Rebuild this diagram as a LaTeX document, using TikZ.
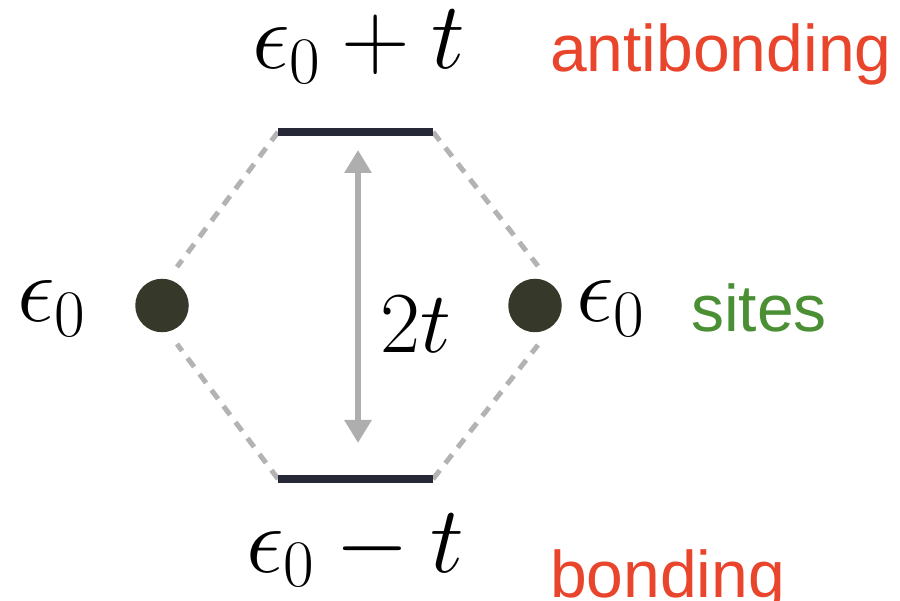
\RequirePackage{fix-cm}
\documentclass[tikz,border=0pt]{standalone}
\usepackage{fontspec}
\setsansfont{Liberation Sans}
\usetikzlibrary{arrows.meta}
\definecolor{levelc}{HTML}{272837}
\definecolor{dotc}{HTML}{363829}
\definecolor{dashc}{HTML}{B3B3B3}
\definecolor{arrc}{HTML}{AEAEAE}
\definecolor{redc}{HTML}{E8452C}
\definecolor{greenc}{HTML}{4A8F33}
\tikzset{
  level/.style={draw=levelc, line width=7.5pt},
  site/.style={circle, fill=dotc, minimum size=53.5pt, inner sep=0pt},
  link/.style={draw=dashc, line width=5pt, dash pattern=on 11pt off 9pt},
  gap/.style={draw=arrc, line width=6pt, {Triangle[length=23pt,width=26pt]}-{Triangle[length=23pt,width=26pt]}},
  mlab/.style={anchor=base west, inner sep=0pt, font=\fontsize{95}{110}\selectfont},
  tlab/.style={anchor=base west, inner sep=0pt, font=\sffamily\fontsize{66}{76}\selectfont},
}
\begin{document}
\begin{tikzpicture}[x=1pt,y=-1pt]
\useasboundingbox (0,0) rectangle (900,601);
% levels
\coordinate (tl) at (278,132);
\coordinate (tr) at (433,132);
\coordinate (bl) at (278,479);
\coordinate (br) at (433,479);
% dots
\node[site] (ls) at (162,305.5) {};
\node[site] (rs) at (535,305.5) {};
% dashed link ends
\coordinate (lt) at (177,267);
\coordinate (lb) at (177,344);
\coordinate (rt) at (538,266);
\coordinate (rb) at (538,345);
\draw[link] (tl) -- (lt);
\draw[link] (bl) -- (lb);
\draw[link] (tr) -- (rt);
\draw[link] (br) -- (rb);
\draw[level] (tl) -- (tr);
\draw[level] (bl) -- (br);
% arrow
\coordinate (at) at (358,150);
\coordinate (ab) at (358,443);
\draw[gap] (at) -- (ab);
% labels
\node[mlab] (top) at (252,69) {$\epsilon_0+t$};
\node[mlab] (bot) at (246,572) {$\epsilon_0-t$};
\node[mlab] (le) at (17,322) {$\epsilon_0$};
\node[mlab] (re) at (576,322) {$\epsilon_0$};
\node[mlab, font=\fontsize{87}{100}\selectfont] (tt) at (380,353) {$2t$};
\node[tlab, text=redc] (ab1) at (550,72) {antibonding};
\node[tlab, text=greenc] (st) at (691,332) {sites};
\node[tlab, text=redc] (bd) at (550,597) {bonding};
\end{tikzpicture}
\end{document}
